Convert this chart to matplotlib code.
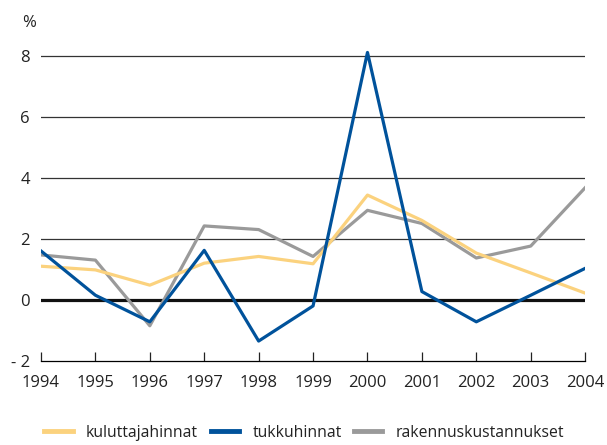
import matplotlib.pyplot as plt

plt.rcParams['font.family'] = ['Open Sans', 'DejaVu Sans']

# data (percent change)
years = [1994, 1995, 1996, 1997, 1998, 1999, 2000, 2001, 2002, 2003, 2004]
kuluttajahinnat = [1.1, 0.98, 0.48, 1.2, 1.42, 1.18, 3.43, 2.6, 1.53, 0.88, 0.22]
tukkuhinnat = [1.6, 0.15, -0.72, 1.62, -1.35, -0.2, 8.1, 0.27, -0.72, 0.15, 1.03]
rakennuskustannukset = [1.47, 1.3, -0.85, 2.42, 2.3, 1.42, 2.93, 2.5, 1.37, 1.76, 3.67]
y_ticks = [-2, 0, 2, 4, 6, 8]

c_yellow = '#FBD27E'
c_blue = '#00529B'
c_gray = '#9A9A9A'
txt = '#222222'

fig = plt.figure(figsize=(6.07, 4.45), dpi=100)
ax = fig.add_axes([0.0675, 0.189, 0.8965, 0.70])

# gridlines
for v in y_ticks[2:]:
    ax.axhline(v, color='#333333', linewidth=0.9, zorder=1)
ax.axhline(0, color='#111111', linewidth=2.3, zorder=1)

ax.plot(years, kuluttajahinnat, color=c_yellow, linewidth=2.3, label='kuluttajahinnat', zorder=3)
ax.plot(years, tukkuhinnat, color=c_blue, linewidth=2.3, label='tukkuhinnat', zorder=4)
ax.plot(years, rakennuskustannukset, color=c_gray, linewidth=2.3, label='rakennuskustannukset', zorder=2)

ax.set_xlim(years[0], years[-1])
ax.set_ylim(-2, 8.2)
for s in ['top', 'right', 'left']:
    ax.spines[s].set_visible(False)
ax.spines['bottom'].set_linewidth(0.9)
ax.set_xticks(years)
ax.set_xticklabels([str(y) for y in years])
ax.set_yticks(y_ticks)
ax.set_yticklabels(['- 2', '0', '2', '4', '6', '8'])
ax.tick_params(axis='x', direction='in', length=6.5, width=0.9, pad=10,
               labelsize=12, colors=txt)
ax.tick_params(axis='y', length=0, pad=8, labelsize=12, colors=txt)
ax.set_facecolor('none')

fig.text(0.036, 0.948, '%', fontsize=12, color=txt, ha='left', va='center')

leg = fig.legend(loc='lower left', bbox_to_anchor=(0.05, -0.022), ncol=3, frameon=False,
                 fontsize=11.3, handlelength=1.8, handletextpad=0.85, columnspacing=0.8,
                 labelcolor=txt)
for h in leg.legend_handles:
    h.set_linewidth(3.5)

fig.savefig('out.png', dpi=100)
